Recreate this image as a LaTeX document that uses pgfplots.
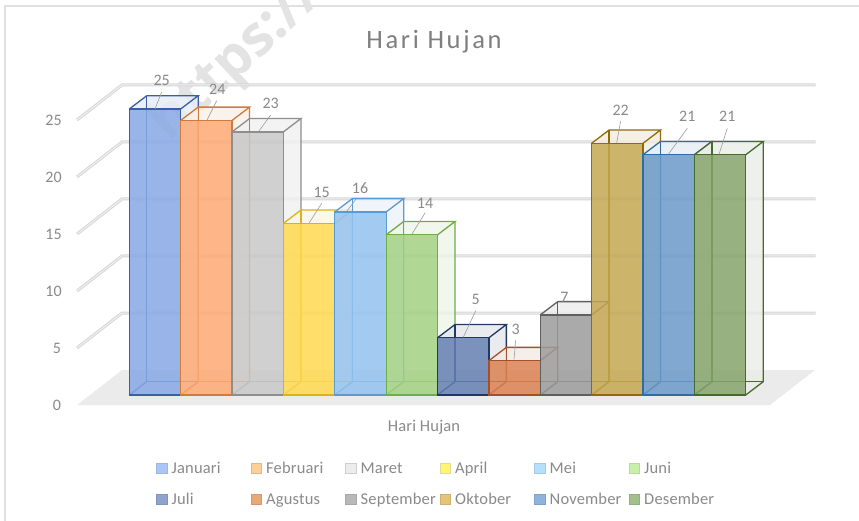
\documentclass[border=0pt]{standalone}
\usepackage{fontspec}
\usepackage{pgfplots}
\pgfplotsset{compat=1.18}
\setmainfont{Carlito}
\newfontfamily\ttlfont[LetterSpace=10]{Carlito}
\newfontfamily\labfont[LetterSpace=1]{Carlito}
\newfontfamily\wmfont{Open Sans}[BoldFont={Open Sans Bold}]
\definecolor{txt}{HTML}{8A8A8A}
\definecolor{ttl}{HTML}{7F7F7F}
\definecolor{gridc}{HTML}{D6D6D6}
\definecolor{gridin}{HTML}{F0F0F0}
% front fill / edge colours
\definecolor{f1}{HTML}{88A8E4}\definecolor{e1}{HTML}{3A5FA8}
\definecolor{f2}{HTML}{FEAA74}\definecolor{e2}{HTML}{D07A3C}
\definecolor{f3}{HTML}{C8C8C8}\definecolor{e3}{HTML}{8E8E8E}
\definecolor{f4}{HTML}{FFDA50}\definecolor{e4}{HTML}{DDB31A}
\definecolor{f5}{HTML}{94C3F0}\definecolor{e5}{HTML}{5B9BD5}
\definecolor{f6}{HTML}{A3D182}\definecolor{e6}{HTML}{70AD47}
\definecolor{f7}{HTML}{6580B2}\definecolor{e7}{HTML}{203864}
\definecolor{f8}{HTML}{DC8252}\definecolor{e8}{HTML}{A5502A}
\definecolor{f9}{HTML}{9C9C9C}\definecolor{e9}{HTML}{5F5F5F}
\definecolor{f10}{HTML}{C5A752}\definecolor{e10}{HTML}{8F6C08}
\definecolor{f11}{HTML}{6A99C8}\definecolor{e11}{HTML}{2E6CA5}
\definecolor{f12}{HTML}{86A46B}\definecolor{e12}{HTML}{476B2D}
% legend swatches
\definecolor{l1}{HTML}{A9C6F5}\definecolor{b1}{HTML}{9DB8E0}
\definecolor{l2}{HTML}{FDD09A}\definecolor{b2}{HTML}{E8B48A}
\definecolor{l3}{HTML}{ECECEC}\definecolor{b3}{HTML}{CFCFCF}
\definecolor{l4}{HTML}{FFF56E}\definecolor{b4}{HTML}{E3D9A0}
\definecolor{l5}{HTML}{B5E0FB}\definecolor{b5}{HTML}{A5C8E3}
\definecolor{l6}{HTML}{C8F0A8}\definecolor{b6}{HTML}{B8D8A0}
\definecolor{l7}{HTML}{8EA4CC}\definecolor{b7}{HTML}{8096BC}
\definecolor{l8}{HTML}{E8A878}\definecolor{b8}{HTML}{D9986C}
\definecolor{l9}{HTML}{B8B8B8}\definecolor{b9}{HTML}{A8A8A8}
\definecolor{l10}{HTML}{E5C478}\definecolor{b10}{HTML}{D0B070}
\definecolor{l11}{HTML}{8FB4DA}\definecolor{b11}{HTML}{7FA4CC}
\definecolor{l12}{HTML}{A3BF8C}\definecolor{b12}{HTML}{94AE80}
\pgfplotsset{
  pxaxis/.style={at={(0pt,0pt)},anchor=south west,scale only axis,width=859pt,height=521pt,
    xmin=0,xmax=859,ymin=0,ymax=521,y dir=reverse,hide axis,clip=false},
  dataaxis/.style={at={(0pt,0pt)},anchor=south west,scale only axis,width=859pt,height=521pt,
    xmin=-2.5171,xmax=14.2051,ymin=-11.014,ymax=34.528,hide axis,clip=false},
}
\newcommand\gridline[1]{%
  \addplot[gridc,line width=3pt,forget plot] coordinates #1;
  \addplot[gridin,line width=1pt,forget plot] coordinates #1;}
% back faces of a box: index, value, colour number
\newcommand\boxback[3]{%
  \pgfmathsetmacro\xa{#1}\pgfmathsetmacro\xb{#1+1}%
  \pgfmathsetmacro\xc{#1+0.3407}\pgfmathsetmacro\xd{#1+1.3407}%
  \pgfmathsetmacro\yt{#2}\pgfmathsetmacro\yu{#2+1.163}%
  \edef\temp{%
   \noexpand\addplot[draw=none,fill=e#3!12!white,fill opacity=.8,forget plot] coordinates {(\xb,0) (\xd,1.163) (\xd,\yu) (\xb,\yt) (\xb,0)};
   \noexpand\addplot[draw=none,fill=e#3!12!white,fill opacity=.8,forget plot] coordinates {(\xa,\yt) (\xb,\yt) (\xd,\yu) (\xc,\yu) (\xa,\yt)};
   \noexpand\addplot[draw=e#3,line width=1.3pt,forget plot] coordinates {(\xa,\yt) (\xc,\yu) (\xd,\yu) (\xb,\yt)};
   \noexpand\addplot[draw=e#3,line width=1.3pt,forget plot] coordinates {(\xd,\yu) (\xd,1.163) (\xb,0)};
   \noexpand\addplot[draw=e#3,line width=1.3pt,forget plot] coordinates {(\xc,\yu) (\xc,1.163) (\xd,1.163)};
   \noexpand\addplot[draw=e#3,line width=1.3pt,forget plot] coordinates {(\xa,0) (\xc,1.163)};
  }\temp}
\newcommand\front[3]{%
  \addplot[ybar,bar shift=0pt,bar width=51.37pt,fill=f#3,fill opacity=.85,draw=e#3,line width=1.3pt,forget plot] coordinates {(#1,#2)};}
\newcommand\legitem[2]{%
  \addlegendimage{fill=l#1,draw=b#1}\addlegendentry{\makebox[79pt][l]{#2}}}
\begin{document}
\begin{tikzpicture}
\clip (0pt,0pt) rectangle (859pt,521pt);
\fill[white] (0pt,0pt) rectangle (859pt,521pt);
% ---- background: frame, watermark, floor, walls
\begin{axis}[pxaxis]
\addplot[color=black!12,line width=1.2pt,forget plot] coordinates {(5,521) (5,6) (859,6)};
\node[rotate=43,text=black!11,font=\wmfont\bfseries\fontsize{56}{56}\selectfont,anchor=center] at (axis cs:237,60) {https://};
\addplot[draw=none,fill=black!8,forget plot] coordinates {(77,405) (122,370) (815,370) (770,405) (77,405)};
\gridline{{(77,348) (122,313) (815.5,313)}}
\gridline{{(77,291) (122,256) (815.5,256)}}
\gridline{{(77,234) (122,199) (815.5,199)}}
\gridline{{(77,177) (122,142) (815.5,142)}}
\gridline{{(77,120) (122,85) (815.5,85)}}
\end{axis}
% ---- bars
\begin{axis}[dataaxis]
\boxback{0}{25}{1}\front{0.5}{25}{1}
\boxback{1}{24}{2}\front{1.5}{24}{2}
\boxback{2}{23}{3}\front{2.5}{23}{3}
\boxback{3}{15}{4}\front{3.5}{15}{4}
\boxback{4}{16}{5}\front{4.5}{16}{5}
\boxback{5}{14}{6}\front{5.5}{14}{6}
\boxback{6}{5}{7}\front{6.5}{5}{7}
\boxback{7}{3}{8}\front{7.5}{3}{8}
\boxback{8}{7}{9}\front{8.5}{7}{9}
\boxback{9}{22}{10}\front{9.5}{22}{10}
\boxback{10}{21}{11}\front{10.5}{21}{11}
\boxback{11}{21}{12}\front{11.5}{21}{12}
\end{axis}
% ---- text, leaders, legend
\begin{axis}[pxaxis,
  legend columns=6,
  legend image code/.code={\draw[#1,line width=1pt] (0pt,-5pt) rectangle (10.5pt,5.5pt);},
  legend style={at={(axis cs:153,460)},anchor=north west,draw=none,fill=none,
    font=\labfont\fontsize{16.5}{15}\selectfont,text=txt,
    nodes={inner sep=0pt},row sep=18pt,
    /tikz/every odd column/.append style={column sep=4pt}},
  legend cell align=left]
\foreach \a/\b/\c/\d in {161.7/92/155/109, 216.7/100.7/206.7/120.7, 270.7/115/259/131, 321.7/203.3/309.3/222.7,
   356/199/347/211, 425/213/412/234, 475.7/310.7/463.3/337.3, 515.7/340/514/359.3, 620.7/121/616.7/142.7,
   687.3/128.3/668.3/154.3, 727.3/128.3/719/154.3}{
  \edef\temp{\noexpand\addplot[color=black!38,line width=.6pt,forget plot] coordinates {(\a,\b) (\c,\d)};}\temp
}
\node[text=ttl,font=\ttlfont\fontsize{26.5}{27}\selectfont] at (axis cs:434,42) {Hari Hujan};
\node[text=txt,font=\labfont\fontsize{16.5}{15}\selectfont] at (axis cs:424,427) {Hari Hujan};
\foreach \t/\x/\y in {25/53.5/120,20/53.5/177,15/53.5/234,10/53.5/291,5/57/348,0/57/405,
   25/161.7/80,24/217.3/89.5,23/270.7/103,15/321.7/192,16/360/188,14/425/203,5/475.7/299,3/515.7/329.5,7/564.3/297.5,22/620.7/110,21/687.3/116,21/727.3/116}{
  \edef\temp{\noexpand\node[text=txt,font=\noexpand\fontsize{16}{16}\noexpand\selectfont] at (axis cs:\x,\y) {\t};}\temp
}
\legitem{1}{Januari}\legitem{2}{Februari}\legitem{3}{Maret}\legitem{4}{April}\legitem{5}{Mei}\legitem{6}{Juni}
\legitem{7}{Juli}\legitem{8}{Agustus}\legitem{9}{September}\legitem{10}{Oktober}\legitem{11}{November}\legitem{12}{Desember}
\end{axis}
\end{tikzpicture}
\end{document}
